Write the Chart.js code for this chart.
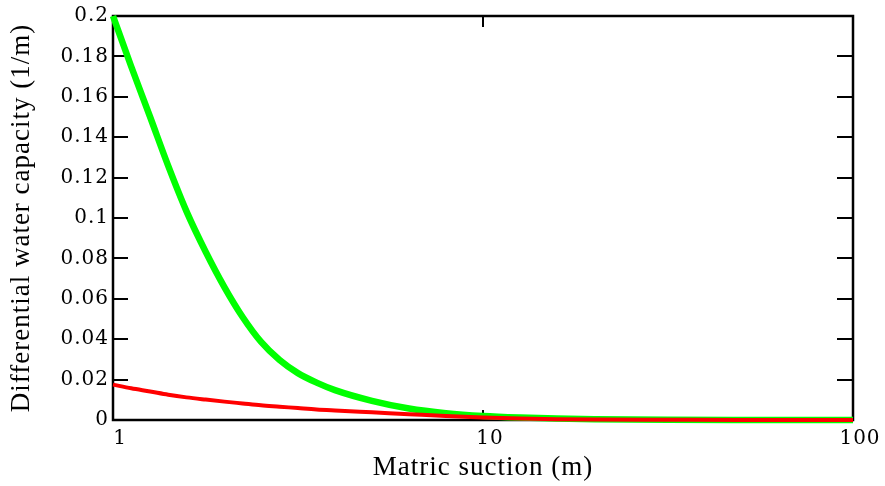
<!DOCTYPE html>
<html>
<head>
<meta charset="utf-8">
<script src="https://cdn.jsdelivr.net/npm/chart.js@4/dist/chart.umd.min.js"></script>
<style>
  html, body { margin: 0; padding: 0; background: #fff; }
  #wrap { width: 885px; height: 486px; position: relative; }
</style>
</head>
<body>
<div id="wrap"><canvas id="capacityChart"></canvas></div>
<script>
// Matric suction (m)
var suction = [1, 1.12, 1.26, 1.41, 1.58, 1.78, 2, 2.24, 2.51, 2.82, 3.16, 3.55, 3.98, 5.01, 6.31, 7.94, 10, 12.6, 15.8, 20, 31.6, 50, 100];
// Differential water capacity (1/m)
var greenCapacity = [0.2, 0.175, 0.150, 0.1258, 0.1033, 0.0833, 0.0658, 0.0510, 0.0388, 0.0297, 0.0232, 0.0185, 0.0148, 0.0095, 0.0057, 0.0034, 0.0020, 0.0012, 0.0007, 0.0004, 0.0001, 0, 0];
var redCapacity   = [0.0175, 0.0157, 0.0141, 0.0125, 0.0112, 0.0101, 0.0091, 0.0082, 0.0073, 0.0066, 0.0059, 0.0052, 0.0047, 0.0038, 0.0029, 0.0020, 0.0012, 0.0007, 0.0004, 0.0002, 0.0001, 0, 0];

var xTicks = [1, 10, 100];
var yTicks = [0, 0.02, 0.04, 0.06, 0.08, 0.1, 0.12, 0.14, 0.16, 0.18, 0.2];

function _points(ys) {
    return suction.map(function (x, i) { return { x: x, y: ys[i] }; });
}

// slightly wider lettering, like the original plot's text
function _spacing(chart) {
    chart.ctx.letterSpacing = '1px';
}

// Mathcad-style frame with inward tick marks
var framePlugin = {
    id: 'frame',
    beforeLayout: _spacing,
    beforeDraw: _spacing,
    beforeDatasetsDraw: function (chart) {
        var ctx = chart.ctx;
        var a = chart.chartArea;
        var xs = chart.scales.x;
        var ys = chart.scales.y;
        ctx.save();
        ctx.strokeStyle = '#000';
        ctx.lineWidth = 2.5;
        ctx.strokeRect(a.left, a.top, a.right - a.left, a.bottom - a.top);
        ctx.lineWidth = 2;
        ctx.beginPath();
        yTicks.forEach(function (v) {
            var py = Math.round(ys.getPixelForValue(v));
            ctx.moveTo(a.left, py);
            ctx.lineTo(a.left + 15, py);
            ctx.moveTo(a.right, py);
            ctx.lineTo(a.right - 16, py);
        });
        var px = Math.round(xs.getPixelForValue(10));
        ctx.moveTo(px, a.top);
        ctx.lineTo(px, a.top + 11);
        ctx.moveTo(px, a.bottom);
        ctx.lineTo(px, a.bottom - 10);
        ctx.stroke();
        ctx.restore();
    }
};

var tickFont = { family: 'DejaVu Serif, serif', size: 20 };
var titleFont = { family: 'Liberation Serif, Times New Roman, serif', size: 27 };

new Chart(document.getElementById('capacityChart'), {
    type: 'line',
    data: {
        datasets: [{
            label: 'red',
            data: _points(redCapacity),
            borderColor: '#ff0000',
            borderWidth: 4,
            pointRadius: 0,
            cubicInterpolationMode: 'monotone',
            clip: 6,
            order: 0,
        }, {
            label: 'green',
            data: _points(greenCapacity),
            borderColor: '#00ff00',
            borderWidth: 6.5,
            pointRadius: 0,
            cubicInterpolationMode: 'monotone',
            clip: 6,
            order: 1,
        }],
    },
    options: {
        responsive: true,
        maintainAspectRatio: false,
        animation: false,
        layout: { padding: { top: 13, right: 32, left: 0, bottom: 0 } },
        plugins: {
            legend: { display: false },
            tooltip: { enabled: false },
        },
        scales: {
            x: {
                type: 'logarithmic',
                min: 1,
                max: 100,
                afterBuildTicks: function (scale) {
                    scale.ticks = xTicks.map(function (v) { return { value: v }; });
                },
                afterFit: function (scale) { scale.height = 66; },
                grid: { display: false, drawTicks: false },
                border: { display: false },
                ticks: {
                    color: '#000',
                    padding: 7,
                    labelOffset: 7,
                    maxRotation: 0,
                    font: tickFont,
                    callback: function (v) { return String(v); },
                },
                title: {
                    display: true,
                    text: 'Matric suction (m)',
                    color: '#000',
                    font: titleFont,
                    padding: { top: 0, bottom: 2 },
                },
            },
            y: {
                min: 0,
                max: 0.2,
                afterBuildTicks: function (scale) {
                    scale.ticks = yTicks.map(function (v) { return { value: v }; });
                },
                afterFit: function (scale) { scale.width = 113; },
                grid: { display: false, drawTicks: false },
                border: { display: false },
                ticks: {
                    color: '#000',
                    padding: 4,
                    font: tickFont,
                    callback: function (v) { return String(Number(v.toFixed(2))); },
                },
                title: {
                    display: true,
                    text: 'Differential water capacity (1/m)',
                    color: '#000',
                    font: titleFont,
                    padding: { top: 6, bottom: 0 },
                },
            },
        },
    },
    plugins: [framePlugin],
});
</script>
</body>
</html>
